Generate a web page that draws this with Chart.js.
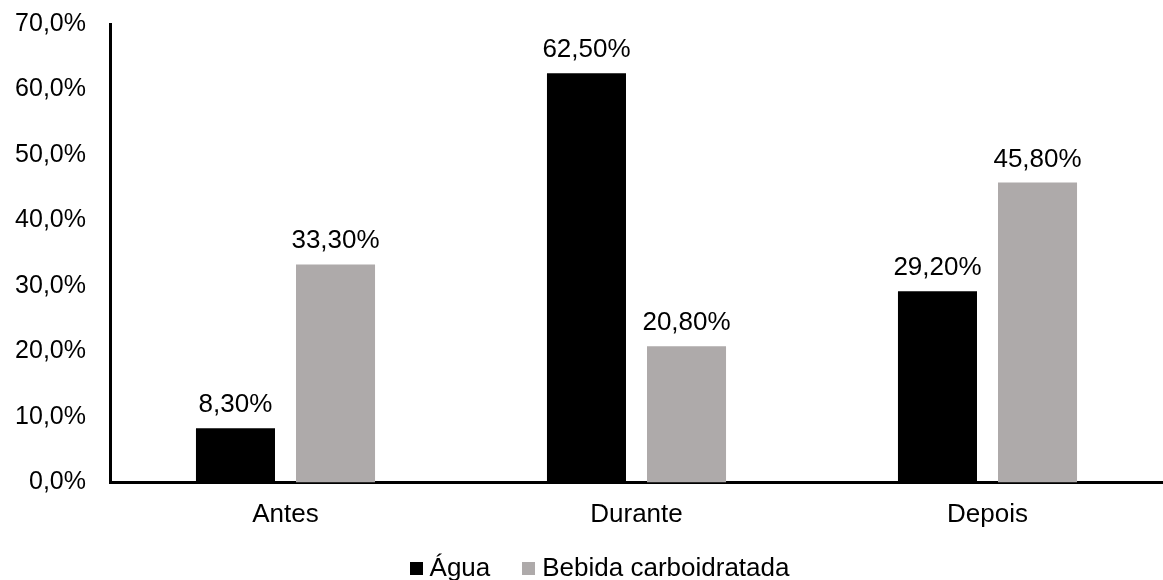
<!DOCTYPE html>
<html>
<head>
<meta charset="utf-8">
<script src="https://cdn.jsdelivr.net/npm/chart.js@4.4.1/dist/chart.umd.min.js"></script>
<style>
  html, body { margin: 0; padding: 0; background: #ffffff; }
  #wrap { width: 1163px; height: 580px; }
</style>
</head>
<body>
<div id="wrap"><canvas id="c" width="1163" height="580"></canvas></div>
<script>
const categories = ["Antes", "Durante", "Depois"];
const seriesNames = ["Água", "Bebida carboidratada"];
const aguaValues = [8.3, 62.5, 29.2];
const bebidaValues = [33.3, 20.8, 45.8];
const yTickMin = 0;
const yTickMax = 70;
const yTickStep = 10;

const FONT = "'Liberation Sans', Arial, sans-serif";
const COLORS = ['#000000', '#AEAAAA'];

function fmtTick(v) { return v.toFixed(1).replace('.', ',') + '%'; }
function fmtLabel(v) { return v.toFixed(2).replace('.', ',') + '%'; }

function squareMarker(color) {
  const cv = document.createElement('canvas');
  cv.width = 13; cv.height = 13;
  const g = cv.getContext('2d');
  g.fillStyle = color;
  g.fillRect(0, 0, 13, 13);
  return cv;
}

const dataLabels = {
  id: 'dataLabels',
  afterDatasetsDraw(chart) {
    const ctx = chart.ctx;
    ctx.save();
    ctx.font = '26px ' + FONT;
    ctx.fillStyle = '#000000';
    ctx.textAlign = 'center';
    ctx.textBaseline = 'alphabetic';
    chart.data.datasets.forEach((ds, i) => {
      const meta = chart.getDatasetMeta(i);
      meta.data.forEach((el, j) => {
        ctx.fillText(fmtLabel(ds.data[j]), el.x, el.y - 16);
      });
    });
    ctx.restore();
  }
};

const legendShift = {
  id: 'legendShift',
  afterLayout(chart) {
    const lg = chart.legend;
    if (lg) {
      lg.left += 21; lg.right += 21;
      lg.top -= 11; lg.bottom -= 11;
    }
  }
};

new Chart(document.getElementById('c'), {
  type: 'bar',
  data: {
    labels: categories,
    datasets: [
      { label: seriesNames[0], data: aguaValues, backgroundColor: COLORS[0],
        pointStyle: squareMarker(COLORS[0]),
        categoryPercentage: 0.57, barPercentage: 0.79 },
      { label: seriesNames[1], data: bebidaValues, backgroundColor: COLORS[1],
        pointStyle: squareMarker(COLORS[1]),
        categoryPercentage: 0.57, barPercentage: 0.79 }
    ]
  },
  options: {
    responsive: false,
    animation: false,
    layout: { padding: { left: 0, right: 0, top: 24, bottom: -22.5 } },
    plugins: {
      legend: {
        position: 'bottom',
        labels: {
          usePointStyle: true, pointStyleWidth: 1, boxHeight: 13,
          padding: 38,
          color: '#000000',
          font: { family: FONT, size: 26 }
        }
      },
      tooltip: { enabled: false }
    },
    scales: {
      x: {
        afterFit(scale) { scale.height = 46; },
        grid: { display: false, drawTicks: false },
        border: { display: true, color: '#000000', width: 3 },
        ticks: { color: '#000000', font: { family: FONT, size: 26 }, padding: 17 }
      },
      y: {
        min: yTickMin, max: yTickMax,
        afterFit(scale) { scale.width = 110; scale.paddingTop = 0; scale.paddingBottom = 0; },
        grid: { display: false, drawTicks: false },
        border: { display: true, color: '#000000', width: 3 },
        ticks: { stepSize: yTickStep, color: '#000000', font: { family: FONT, size: 25 }, padding: 24,
                 callback: (v) => fmtTick(v) }
      }
    }
  },
  plugins: [dataLabels, legendShift]
});
</script>
</body>
</html>
